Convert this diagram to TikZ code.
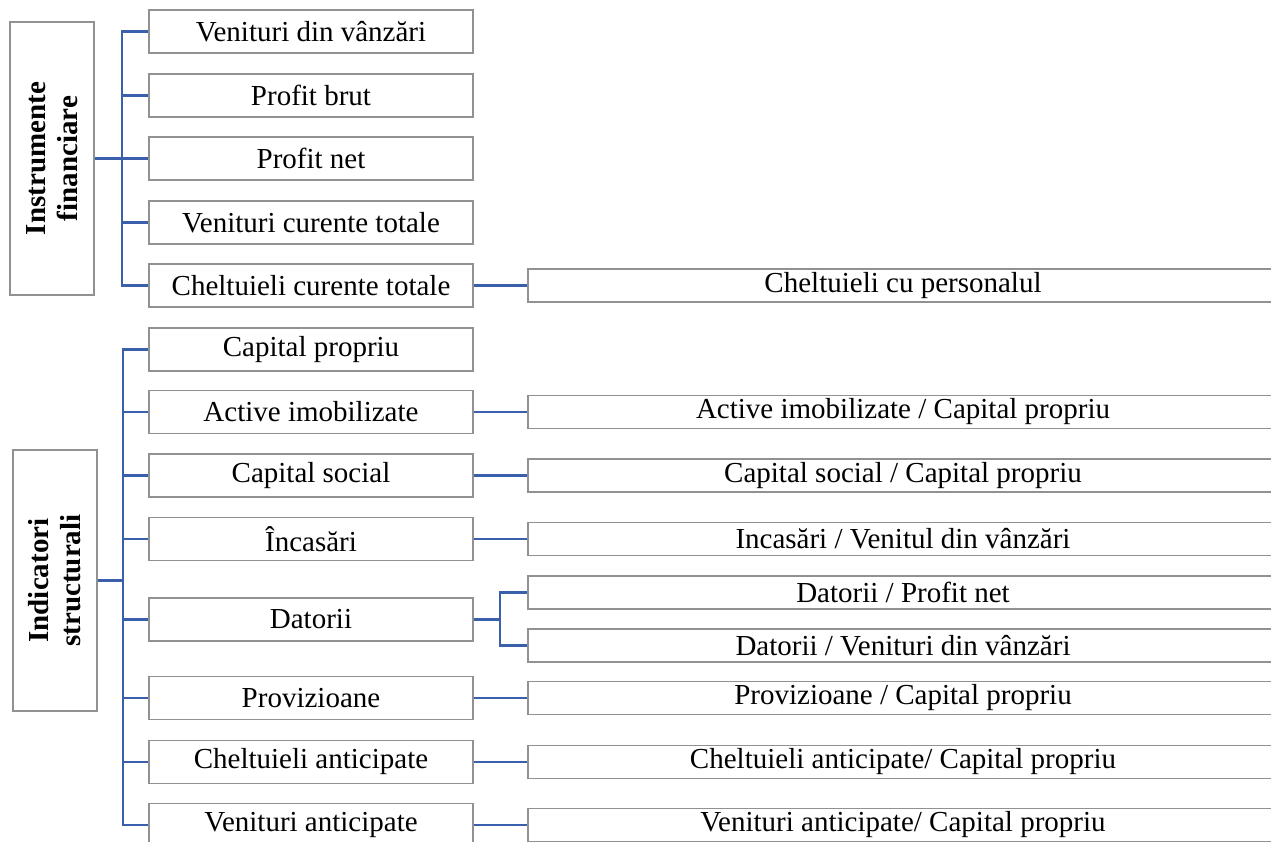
\documentclass[tikz,border=0pt]{standalone}
\usepackage{fontspec}
\setmainfont{Liberation Serif}
\usepackage{tikz}

\definecolor{linkblue}{RGB}{58,96,172}
\definecolor{boxgray}{RGB}{145,145,145}

\begin{document}
\begin{tikzpicture}[x=1pt,y=-1pt,
   box/.style={draw=boxgray,line width=1.4pt,minimum width=324pt,minimum height=43pt,inner sep=0pt,font=\fontsize{29}{32}\selectfont},
   wide/.style={box,minimum width=750pt,minimum height=33pt},
   side/.style={draw=boxgray,line width=1.4pt,rotate=90,align=center,inner sep=0pt,minimum height=84pt,font=\fontsize{29}{32}\selectfont\bfseries},
   link/.style={draw=linkblue,line width=2.6pt}]
   \useasboundingbox (0,0) rectangle (1271,841);
   \clip (0,0) rectangle (1271,841);

   % left boxes
   \node[side,minimum width=273pt] (fin) at (52,158.5) {Instrumente\\financiare};
   \node[side,minimum width=261pt] (ind) at (55,580.5) {Indicatori\\structurali};

   % upper column
   \node[box] (a1) at (311,31.5)  {Venituri din vânzări};
   \node[box] (a2) at (311,95.5)  {Profit brut};
   \node[box] (a3) at (311,158.5) {Profit net};
   \node[box] (a4) at (311,222.5) {Venituri curente totale};
   \node[box] (a5) at (311,285.5) {Cheltuieli curente totale};

   % lower column
   \node[box] (b1) at (311,349.5) {Capital propriu};
   \node[box] (b2) at (311,412)   {Active imobilizate};
   \node[box] (b3) at (311,475.5) {Capital social};
   \node[box] (b4) at (311,539)   {Încasări};
   \node[box] (b5) at (311,619.5) {Datorii};
   \node[box] (b6) at (311,698)   {Provizioane};
   \node[box] (b7) at (311,762)   {Cheltuieli anticipate};
   \node[box] (b8) at (311,825)   {Venituri anticipate};

   % right column
   \node[wide] (c5)  at (903,285.5) {Cheltuieli cu personalul};
   \node[wide] (d2)  at (903,412)   {Active imobilizate / Capital propriu};
   \node[wide] (d3)  at (903,475.5) {Capital social / Capital propriu};
   \node[wide] (d4)  at (903,539)   {Incasări / Venitul din vânzări};
   \node[wide] (d5a) at (903,592.5) {Datorii / Profit net};
   \node[wide] (d5b) at (903,645.5) {Datorii / Venituri din vânzări};
   \node[wide] (d6)  at (903,698)   {Provizioane / Capital propriu};
   \node[wide] (d7)  at (903,762)   {Cheltuieli anticipate/ Capital propriu};
   \node[wide] (d8)  at (903,825)   {Venituri anticipate/ Capital propriu};

   \coordinate (ba) at (122,158.5);
   \coordinate (bb) at (123,580.5);
   \coordinate (bd) at (500,619.5);

   \draw[link] (fin.south) -- (ba);
   \foreach \n in {a1,a2,a3,a4,a5}
      \draw[link] (ba) |- (\n.west);
   \draw[link] (ind.south) -- (bb);
   \foreach \n in {b1,b2,b3,b4,b5,b6,b7,b8}
      \draw[link] (bb) |- (\n.west);

   \draw[link] (a5.east) -- (c5.west);
   \draw[link] (b2.east) -- (d2.west);
   \draw[link] (b3.east) -- (d3.west);
   \draw[link] (b4.east) -- (d4.west);
   \draw[link] (b5.east) -- (bd);
   \draw[link] (bd) |- (d5a.west);
   \draw[link] (bd) |- (d5b.west);
   \draw[link] (b6.east) -- (d6.west);
   \draw[link] (b7.east) -- (d7.west);
   \draw[link] (b8.east) -- (d8.west);
\end{tikzpicture}
\end{document}
